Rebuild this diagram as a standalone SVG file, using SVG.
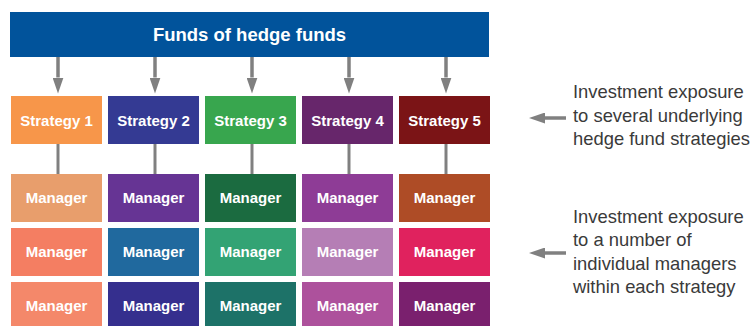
<svg xmlns="http://www.w3.org/2000/svg" width="752" height="326" viewBox="0 0 752 326">
<style>
.box text{font-family:"Liberation Sans",Arial,sans-serif;font-weight:bold;fill:#fff;text-anchor:middle;font-size:15px}
.box text.title{font-size:18.5px}
.note{font-family:"Liberation Sans",Arial,sans-serif;font-size:18.4px;fill:#3a3a3a}
.conn line{stroke:#808080;stroke-width:3.5}
</style>
<defs>
<marker id="ah" viewBox="0 0 16 11" refX="0" refY="5.5" markerWidth="16" markerHeight="11" orient="auto" markerUnits="userSpaceOnUse">
<path d="M0,0 L16,5.5 L0,11 z" fill="#808080"/>
</marker>
</defs>
<rect width="752" height="326" fill="#fff"/>
<g id="top" class="box"><rect x="10" y="12" width="479" height="45" fill="#01539b"/><text class="title" x="249.5" y="41">Funds of hedge funds</text></g>
<g class="conn" id="connectors">
<line x1="58" y1="57" x2="58" y2="77.5" marker-end="url(#ah)"/>
<line x1="155" y1="57" x2="155" y2="77.5" marker-end="url(#ah)"/>
<line x1="252" y1="57" x2="252" y2="77.5" marker-end="url(#ah)"/>
<line x1="349" y1="57" x2="349" y2="77.5" marker-end="url(#ah)"/>
<line x1="446" y1="57" x2="446" y2="77.5" marker-end="url(#ah)"/>
<line x1="58" y1="144" x2="58" y2="174" style="stroke-width:3"/>
<line x1="155" y1="144" x2="155" y2="174" style="stroke-width:3"/>
<line x1="252" y1="144" x2="252" y2="174" style="stroke-width:3"/>
<line x1="349" y1="144" x2="349" y2="174" style="stroke-width:3"/>
<line x1="446" y1="144" x2="446" y2="174" style="stroke-width:3"/>
<line x1="566" y1="118" x2="545" y2="118" marker-end="url(#ah)"/>
<line x1="566" y1="253" x2="545" y2="253" marker-end="url(#ah)"/>
</g>
<g id="s1" class="box"><rect x="11" y="96" width="91" height="48" fill="#f7964a"/><text x="56.5" y="125.5">Strategy 1</text></g>
<g id="s2" class="box"><rect x="108" y="96" width="91" height="48" fill="#343a93"/><text x="153.5" y="125.5">Strategy 2</text></g>
<g id="s3" class="box"><rect x="205" y="96" width="91" height="48" fill="#38a64e"/><text x="250.5" y="125.5">Strategy 3</text></g>
<g id="s4" class="box"><rect x="302" y="96" width="91" height="48" fill="#67266b"/><text x="347.5" y="125.5">Strategy 4</text></g>
<g id="s5" class="box"><rect x="399" y="96" width="91" height="48" fill="#7b1416"/><text x="444.5" y="125.5">Strategy 5</text></g>

<g id="m11" class="box"><rect x="11" y="174" width="91" height="48" fill="#e89e6c"/><text x="56.5" y="203">Manager</text></g>
<g id="m12" class="box"><rect x="108" y="174" width="91" height="48" fill="#663494"/><text x="153.5" y="203">Manager</text></g>
<g id="m13" class="box"><rect x="205" y="174" width="91" height="48" fill="#1b6b40"/><text x="250.5" y="203">Manager</text></g>
<g id="m14" class="box"><rect x="302" y="174" width="91" height="48" fill="#8e3c96"/><text x="347.5" y="203">Manager</text></g>
<g id="m15" class="box"><rect x="399" y="174" width="91" height="48" fill="#ae4c26"/><text x="444.5" y="203">Manager</text></g>

<g id="m21" class="box"><rect x="11" y="228" width="91" height="48" fill="#f47e62"/><text x="56.5" y="257">Manager</text></g>
<g id="m22" class="box"><rect x="108" y="228" width="91" height="48" fill="#20699e"/><text x="153.5" y="257">Manager</text></g>
<g id="m23" class="box"><rect x="205" y="228" width="91" height="48" fill="#33a374"/><text x="250.5" y="257">Manager</text></g>
<g id="m24" class="box"><rect x="302" y="228" width="91" height="48" fill="#b57eb5"/><text x="347.5" y="257">Manager</text></g>
<g id="m25" class="box"><rect x="399" y="228" width="91" height="48" fill="#e0225e"/><text x="444.5" y="257">Manager</text></g>

<g id="m31" class="box"><rect x="11" y="282" width="91" height="48" fill="#f4886a"/><text x="56.5" y="311">Manager</text></g>
<g id="m32" class="box"><rect x="108" y="282" width="91" height="48" fill="#352f8e"/><text x="153.5" y="311">Manager</text></g>
<g id="m33" class="box"><rect x="205" y="282" width="91" height="48" fill="#1d7268"/><text x="250.5" y="311">Manager</text></g>
<g id="m34" class="box"><rect x="302" y="282" width="91" height="48" fill="#ad519c"/><text x="347.5" y="311">Manager</text></g>
<g id="m35" class="box"><rect x="399" y="282" width="91" height="48" fill="#7a206e"/><text x="444.5" y="311">Manager</text></g>

<g id="note1"><text class="note" x="573" y="98">Investment exposure<tspan x="573" y="121.5">to several underlying</tspan><tspan x="573" y="145">hedge fund strategies</tspan></text></g>
<g id="note2"><text class="note" x="573" y="222.5">Investment exposure<tspan x="573" y="246">to a number of</tspan><tspan x="573" y="269.5">individual managers</tspan><tspan x="573" y="293">within each strategy</tspan></text></g>
</svg>
